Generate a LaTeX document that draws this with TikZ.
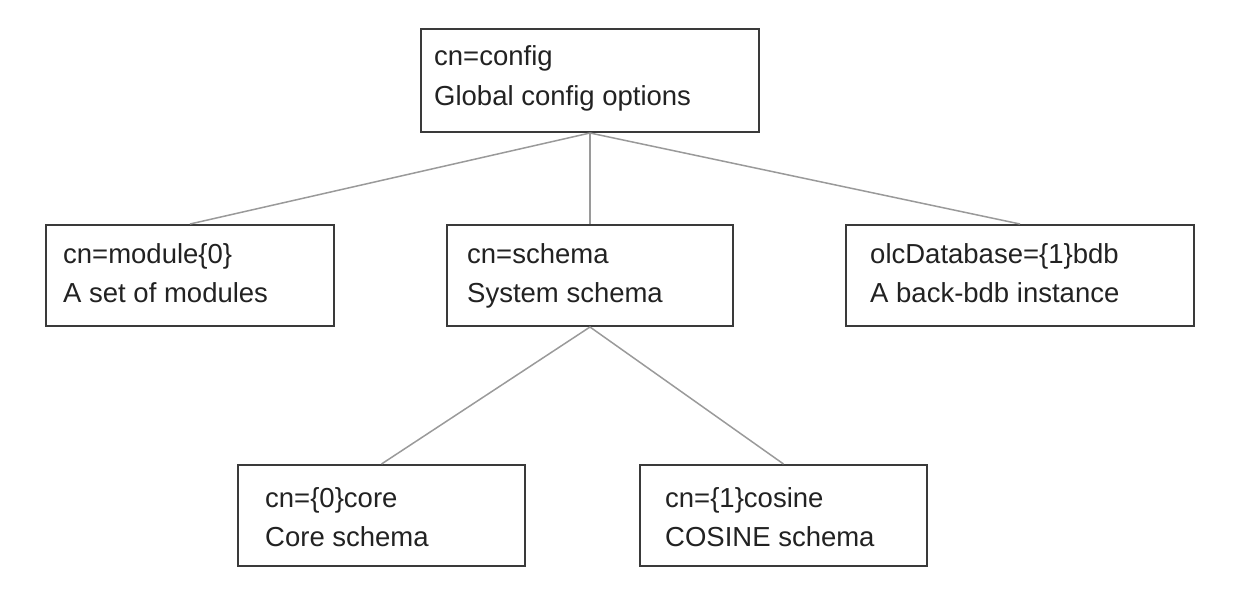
\documentclass[tikz,border=0pt]{standalone}
\usepackage{fontspec}
\setmainfont{Liberation Sans}
\definecolor{boxcol}{HTML}{3A3A3A}
\definecolor{conncol}{HTML}{9A9A9A}
\definecolor{textcol}{HTML}{222222}
\tikzset{
  box/.style={draw=boxcol, line width=2pt, rectangle, anchor=north west, inner sep=0pt, fill=white},
  lbl/.style={anchor=base west, inner sep=0pt, text=textcol, font=\fontsize{27.5}{33}\selectfont},
  conn/.style={draw=conncol, line width=1.5pt},
}
\begin{document}
\begin{tikzpicture}[x=1pt,y=-1pt]
\useasboundingbox (0,0) rectangle (1234,594);
% boxes
\node[box, minimum width=338pt, minimum height=103pt] (config) at (420,28) {};
\node[box, minimum width=288pt, minimum height=101pt] (module) at (45,224) {};
\node[box, minimum width=286pt, minimum height=101pt] (schema) at (446,224) {};
\node[box, minimum width=348pt, minimum height=101pt] (olc) at (845,224) {};
\node[box, minimum width=287pt, minimum height=101pt] (core) at (237,464) {};
\node[box, minimum width=287pt, minimum height=101pt] (cosine) at (639,464) {};
% connectors
\draw[conn] (config.south) -- (module.north);
\draw[conn] (config.south) -- (schema.north);
\draw[conn] (config.south) -- (olc.north);
\draw[conn] (schema.south) -- (core.north);
\draw[conn] (schema.south) -- (cosine.north);
% labels
\node[lbl] (config-a) at (434,66) {cn=config};
\node[lbl] (config-b) at (434,106) {Global config options};
\node[lbl] (module-a) at (63,263) {cn=module\{0\}};
\node[lbl] (module-b) at (63,302) {A set of modules};
\node[lbl] (schema-a) at (467,263) {cn=schema};
\node[lbl] (schema-b) at (467,302) {System schema};
\node[lbl] (olc-a) at (870,263) {olcDatabase=\{1\}bdb};
\node[lbl] (olc-b) at (870,302) {A back-bdb instance};
\node[lbl] (core-a) at (265,507) {cn=\{0\}core};
\node[lbl] (core-b) at (265,546) {Core schema};
\node[lbl] (cosine-a) at (665,507) {cn=\{1\}cosine};
\node[lbl] (cosine-b) at (665,546) {COSINE schema};
\end{tikzpicture}
\end{document}
